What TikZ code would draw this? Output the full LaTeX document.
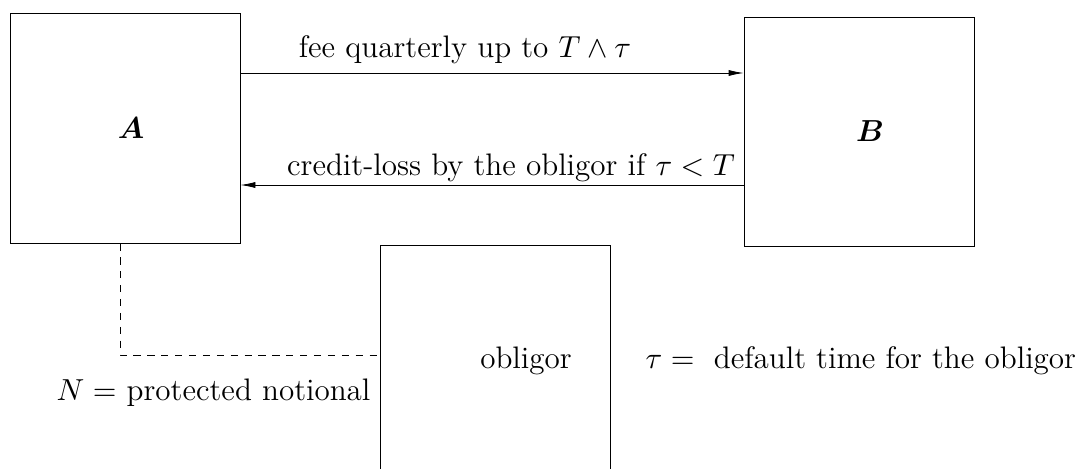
\documentclass[tikz,border=0pt]{standalone}
\usepackage{amsmath}
\usepackage{tikz}
\usetikzlibrary{arrows.meta,positioning}
\tikzset{
  party/.style={draw,line width=0.3pt,minimum width=82.8pt,minimum height=82.8pt,inner sep=0pt},
  flow/.style={draw,line width=0.3pt,-{Latex[length=5.4pt,width=2.2pt]}},
  lbl/.style={inner sep=0pt,anchor=base}
}
\begin{document}
\begin{tikzpicture}[x=0.36pt,y=-0.36pt,font=\fontsize{11.2pt}{13.5pt}\selectfont]
  \useasboundingbox (0,0) rectangle (1090,468);
  \clip (0,0) rectangle (1090,468);
  % the two parties
  \node[party] (A) at (125,128) {};
  \node[party,minimum height=82.4pt] (B) at (859,131.5) {};
  \node (Alab) at (131,128) {$\boldsymbol{A}$};
  \node (Blab) at (870,131) {$\boldsymbol{B}$};
  % the obligor, cut by the page
  \node[party,minimum height=108pt,anchor=north] (obl) at (495,245) {};
  \node[lbl] (oblname) at (526,368) {obligor};
  % payments
  \draw[flow] (A.east |- 0,73) -- (B.west |- 0,73);
  \draw[flow] (B.west |- 0,185) -- (A.east |- 0,185);
  \node[lbl] (fee) at (465,58) {fee quarterly up to $T\wedge\tau$};
  \node[lbl] (loss) at (511,175) {credit-loss by the obligor if $\tau<T$};
  % notional
  \draw[dashed,dash pattern=on 2.6pt off 2.4pt,line width=0.3pt] (A.south -| 120,0) |- (obl.west |- 0,355);
  \node[lbl,anchor=base east] (notional) at (371,400) {$N=$ protected notional};
  \node[lbl,anchor=base west] (deftime) at (645,368) {$\tau=$\hspace{7pt}default time for the obligor};
\end{tikzpicture}
\end{document}
